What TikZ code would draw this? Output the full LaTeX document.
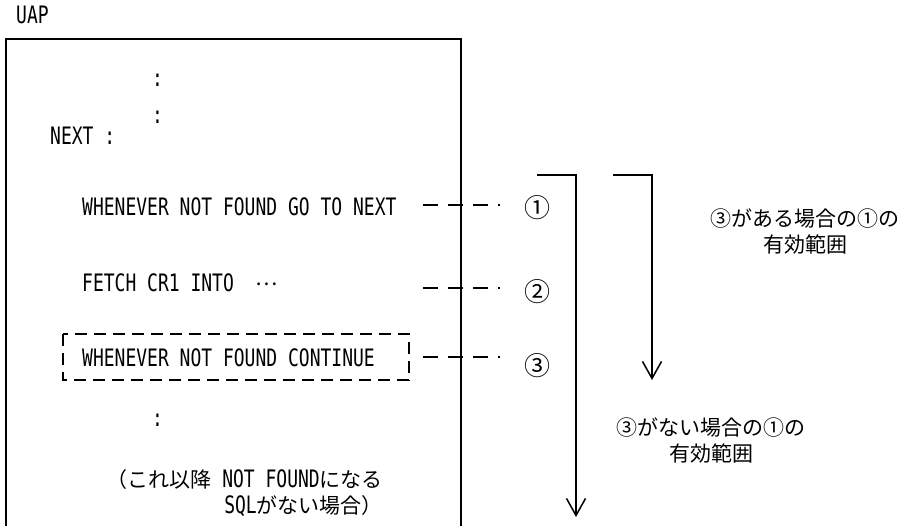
\documentclass[tikz,border=0pt]{standalone}
\usepackage{fontspec}
\setmainfont{Noto Sans CJK JP}
\newfontfamily\codefont[FakeStretch=0.75]{DejaVu Sans Mono}
\usetikzlibrary{arrows.meta}

\tikzset{
  code/.style={anchor=west,inner sep=0pt,font=\codefont\fontsize{24}{26}\selectfont},
  note/.style={align=center,inner sep=0pt,font=\fontsize{21}{26}\selectfont},
  circnum/.style={inner sep=0pt,font=\fontsize{26}{26}\selectfont},
  leader/.style={line width=1.2pt,dash pattern=on 15pt off 10pt},
  scopearrow/.style={line width=1.5pt,-{Straight Barb[length=17pt,width=19pt,line width=1.5pt]}}
}

\begin{document}
\begin{tikzpicture}[x=1pt,y=1pt,yscale=-1]
\useasboundingbox (0,0) rectangle (899,526);

% UAP frame, open at the bottom
\node[code] (uap) at (16,15) {UAP};
\draw [line width=1.5pt] (6,526) -- (6,39) -- (461,39) -- (461,526);

% program lines
\node[code] (dots1) at (152,80) {:};
\node[code] (dots2) at (152,117) {:};
\node[code] (next) at (50,136) {NEXT :};
\node[code] (w1) at (82,207) {WHENEVER NOT FOUND GO TO NEXT};
\node[code] (fetch) at (82,283) {FETCH CR1 INTO\ \ {\rmfamily\fontsize{21}{26}\selectfont\raisebox{6pt}{…}}};
\node[code] (w3) at (82,358) {WHENEVER NOT FOUND CONTINUE};
\draw [line width=1.5pt,dash pattern=on 12pt off 7pt] (63,334) rectangle (409,380);
\node[code] (dots3) at (152,420) {:};
\node[note,align=right,anchor=east] (rest) at (383,493)
  {（これ以降{\codefont\fontsize{24}{26}\selectfont\ NOT FOUND}になる\\{\codefont\fontsize{24}{26}\selectfont SQL}がない場合）};

% circled numbers and leaders
\node[circnum] (c1) at (537,208) {①};
\node[circnum] (c2) at (537,292) {②};
\node[circnum] (c3) at (537,366) {③};
\coordinate (l1) at (423,205);
\coordinate (l2) at (423,288);
\coordinate (l3) at (423,357);
\draw [leader] (l1) -- ([xshift=-24pt]l1 -| c1.west);
\draw [leader] (l2) -- ([xshift=-24pt]l2 -| c2.west);
\draw [leader] (l3) -- ([xshift=-24pt]l3 -| c3.west);

% valid ranges
\coordinate (r1) at (537,175);
\coordinate (r1e) at (576,517);
\coordinate (r2) at (613,175);
\coordinate (r2e) at (652,380);
\draw [scopearrow] (r1) -- (r1 -| r1e) -- (r1e);
\draw [scopearrow] (r2) -- (r2 -| r2e) -- (r2e);
\node[note] (with3) at (805,232) {③がある場合の①の\\有効範囲};
\node[note] (no3) at (711,440) {③がない場合の①の\\有効範囲};

\end{tikzpicture}
\end{document}
